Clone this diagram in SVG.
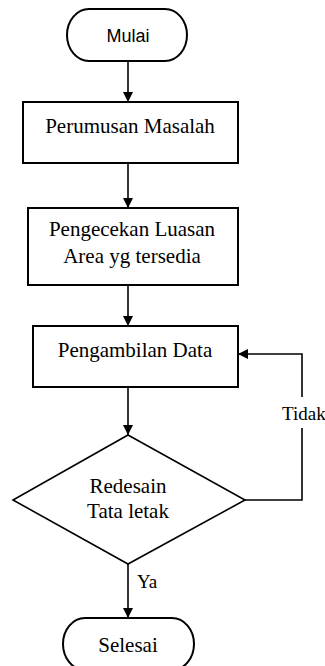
<svg xmlns="http://www.w3.org/2000/svg" width="325" height="666" viewBox="0 0 325 666">
<defs>
<marker id="ah" viewBox="0 0 10 10" refX="10" refY="5" markerWidth="10" markerHeight="10" markerUnits="userSpaceOnUse" orient="auto">
<path d="M0,0 L10,5 L0,10 Z" fill="#000"/>
</marker>
<style>
.box{fill:#fff;stroke:#000;stroke-width:2}
.line{fill:none;stroke:#000;stroke-width:1.6}
.t{font-family:"Liberation Serif","Times New Roman",serif;font-size:21px;fill:#000;text-anchor:middle}
.s{font-family:"Liberation Sans",Arial,sans-serif;font-size:18px;fill:#000;text-anchor:middle}
.lbl{font-family:"Liberation Serif","Times New Roman",serif;font-size:19px;fill:#000}
</style>
</defs>
<rect width="325" height="666" fill="#fff"/>
<g id="connectors">
<line class="line" x1="128" y1="61" x2="128" y2="102" marker-end="url(#ah)"/>
<line class="line" x1="128" y1="163" x2="128" y2="208" marker-end="url(#ah)"/>
<line class="line" x1="128" y1="285" x2="128" y2="326" marker-end="url(#ah)"/>
<line class="line" x1="128" y1="387" x2="128" y2="435" marker-end="url(#ah)"/>
<line class="line" x1="128" y1="564" x2="128" y2="618" marker-end="url(#ah)"/>
<polyline class="line" points="245,500 302,500 302,428"/>
<polyline class="line" points="302,397 302,354 238,354" marker-end="url(#ah)"/>
<text class="lbl" x="282" y="420">Tidak</text>
<text class="lbl" x="137" y="588">Ya</text>
</g>
<g id="mulai">
<rect class="box" x="67" y="9" width="120" height="52" rx="22" ry="26"/>
<text class="s" x="128" y="42">Mulai</text>
</g>
<g id="perumusan">
<rect class="box" x="23" y="102" width="215" height="61"/>
<text class="t" x="130" y="133">Perumusan Masalah</text>
</g>
<g id="pengecekan">
<rect class="box" x="28" y="208" width="210" height="77"/>
<text class="t" x="132" y="236">Pengecekan Luasan</text>
<text class="t" x="132" y="263">Area yg tersedia</text>
</g>
<g id="pengambilan">
<rect class="box" x="33" y="326" width="205" height="61"/>
<text class="t" x="135" y="357">Pengambilan Data</text>
</g>
<g id="redesain">
<polygon class="box" points="128,435 245,500 128,564 13,500" style="stroke-width:1.6"/>
<text class="t" x="128" y="493">Redesain</text>
<text class="t" x="128" y="518">Tata letak</text>
</g>
<g id="selesai">
<rect class="box" x="63" y="618" width="131" height="52" rx="22" ry="26"/>
<text class="t" x="128" y="652">Selesai</text>
</g>
</svg>
